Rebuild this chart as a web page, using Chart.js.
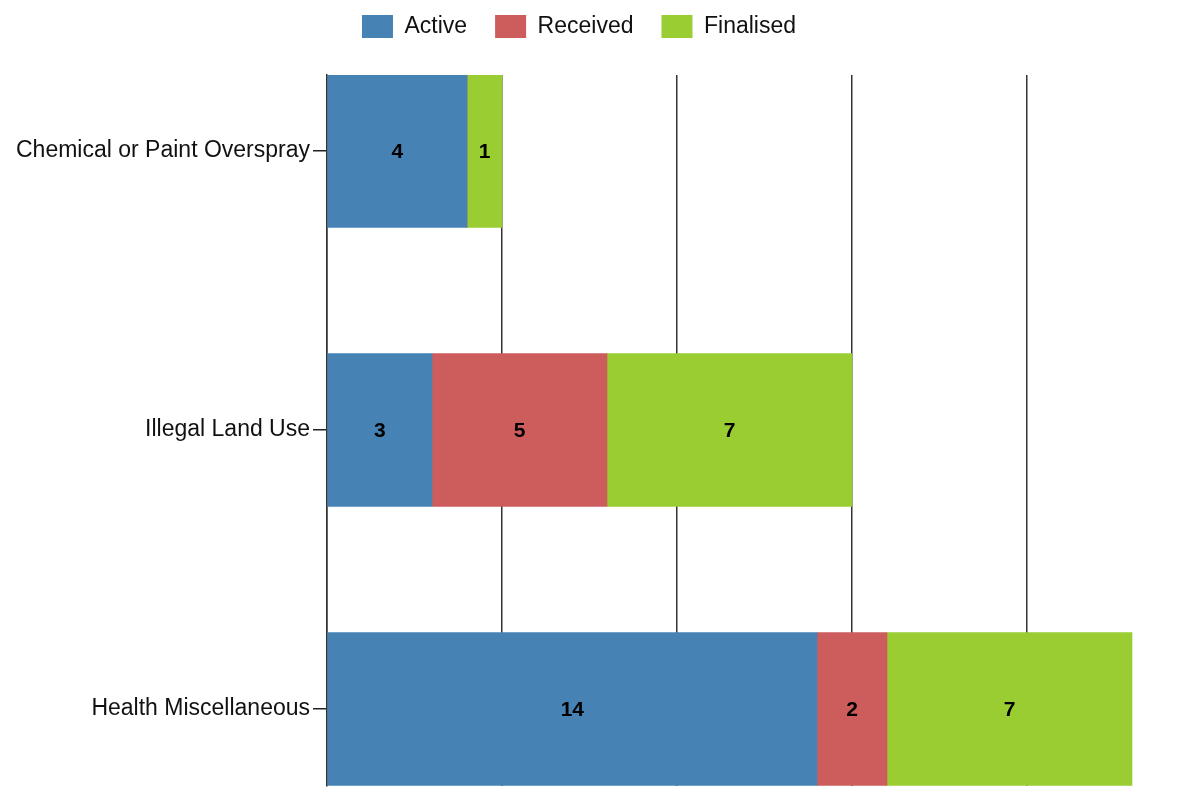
<!DOCTYPE html>
<html>
<head>
<meta charset="utf-8">
<script src="https://cdn.jsdelivr.net/npm/chart.js@4"></script>
<style>
  body { margin: 0; background: #fff; }
  #wrap { width: 1192px; height: 787px; }
</style>
</head>
<body>
<div id="wrap"><canvas id="chart" width="1192" height="787"></canvas></div>
<script>
const categories = ['Chemical or Paint Overspray', 'Illegal Land Use', 'Health Miscellaneous'];
const active = [4, 3, 14];
const received = [0, 5, 2];
const finalised = [1, 7, 7];
const xTicks = [0, 5, 10, 15, 20];

const fontFamily = '"Liberation Sans", Arial, sans-serif';

// one row of bars per category index, y is a plain index axis
const toPoints = values => values.map((v, i) => ({ x: v, y: i }));

/**
 * Writes each segment's value in the middle of its bar.
 */
const barLabels = {
    id: 'barLabels',
    afterDatasetsDraw(chart) {
        const ctx = chart.ctx;
        ctx.save();
        ctx.font = 'bold 21px ' + fontFamily;
        ctx.fillStyle = '#000';
        ctx.textAlign = 'center';
        ctx.textBaseline = 'middle';
        chart.data.datasets.forEach((ds, di) => {
            chart.getDatasetMeta(di).data.forEach((bar, i) => {
                const value = ds.data[i].x;
                if (!value) {
                    return;
                }
                ctx.fillText(String(value), (bar.x + bar.base) / 2, bar.y + 1);
            });
        });
        ctx.restore();
    }
};

// leaves a gap between the legend and the plot
const legendGap = {
    id: 'legendGap',
    beforeInit(chart) {
        const fit = chart.legend.fit;
        chart.legend.fit = function () {
            fit.call(this);
            this.height += 27;
        };
    }
};

const ctx = document.getElementById('chart').getContext('2d');

new Chart(ctx, {
    type: 'bar',
    data: {
        datasets: [
            { label: 'Active', data: toPoints(active), backgroundColor: '#4682B4' },
            { label: 'Received', data: toPoints(received), backgroundColor: '#CD5C5C' },
            { label: 'Finalised', data: toPoints(finalised), backgroundColor: '#9ACD32' }
        ]
    },
    options: {
        responsive: false,
        animation: false,
        indexAxis: 'y',
        layout: { padding: { top: -13, right: 34, bottom: 1, left: 0 } },
        datasets: {
            bar: { barThickness: 153, borderWidth: 0 }
        },
        scales: {
            x: {
                type: 'linear',
                stacked: true,
                min: 0,
                max: 23.743,
                afterBuildTicks: scale => {
                    scale.ticks = xTicks.map(value => ({ value }));
                },
                afterFit: scale => {
                    scale.height = 0;
                },
                ticks: { display: false },
                grid: { color: '#333', drawTicks: false, lineWidth: 1.5 },
                border: { display: false }
            },
            y: {
                type: 'linear',
                stacked: true,
                reverse: true,
                offset: false,
                min: -0.2724,
                max: 2.276,
                afterBuildTicks: scale => {
                    scale.ticks = categories.map((c, i) => ({ value: i }));
                },
                afterFit: scale => {
                    scale.width = 327;
                    scale.paddingTop = 0;
                    scale.paddingBottom = 0;
                },
                ticks: {
                    padding: 3,
                    color: '#111',
                    font: { family: fontFamily, size: 23 },
                    callback: value => categories[value]
                },
                grid: {
                    offset: false,
                    drawOnChartArea: false,
                    drawTicks: true,
                    tickLength: 14,
                    lineWidth: 1.5,
                    color: '#222'
                },
                border: { display: true, color: '#333', width: 1.5 }
            }
        },
        plugins: {
            legend: {
                position: 'top',
                labels: {
                    boxWidth: 31,
                    boxHeight: 23,
                    padding: 28,
                    color: '#111',
                    font: { family: fontFamily, size: 23 }
                }
            },
            tooltip: { enabled: false }
        }
    },
    plugins: [barLabels, legendGap]
});
</script>
</body>
</html>
